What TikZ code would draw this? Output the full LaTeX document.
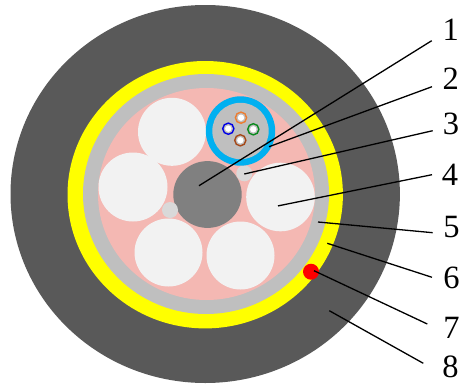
\documentclass[tikz,border=0pt]{standalone}
\usepackage{fontspec}
\setmainfont{Liberation Serif}
\definecolor{jacket}{HTML}{595959}
\definecolor{sheath}{RGB}{255,255,0}
\definecolor{tape}{HTML}{BFBFBF}
\definecolor{gel}{HTML}{F4B8B3}
\definecolor{filler}{HTML}{F2F2F2}
\definecolor{tube}{HTML}{00B0F0}
\definecolor{core}{HTML}{808080}
\definecolor{thread}{HTML}{D9D9D9}
\definecolor{fibO}{HTML}{ED7D31}
\definecolor{fibB}{HTML}{0000E6}
\definecolor{fibG}{HTML}{0A8A1E}
\definecolor{fibR}{HTML}{A5491A}
\tikzset{
  fillerdisc/.style={fill=filler},
  threaddisc/.style={fill=thread},
  leader/.style={draw=black,line width=1.3pt},
  numlabel/.style={font=\fontsize{32.5pt}{33pt}\selectfont,inner sep=0pt,text=black},
  fibrering/.style={fill=tape,line width=1.4pt},
}
\begin{document}
\begin{tikzpicture}[x=1pt,y=-1pt]
\useasboundingbox (0,0) rectangle (460,383);
% cable layers
\fill[jacket] (205.2,194) ellipse [x radius=194.7pt,y radius=189pt];
\fill[sheath] (205.2,194.7) ellipse [x radius=137.7pt,y radius=133.7pt];
\fill[tape] (206,194) ellipse [x radius=123pt,y radius=120pt];
\fill[gel] (206.5,194) ellipse [x radius=108.5pt,y radius=106pt];
% fillers
\fill[fillerdisc] (172,131.8) circle [radius=34pt];
\fill[fillerdisc] (133,187) circle [radius=34.5pt];
\fill[fillerdisc] (168.5,252.5) circle [radius=34pt];
\fill[fillerdisc] (240.5,255.5) circle [radius=34pt];
\fill[fillerdisc] (280.5,197) circle [radius=34.3pt];
% centre member and threads
\fill[core] (207.5,194.5) ellipse [x radius=34.2pt,y radius=33.4pt];
\fill[threaddisc] (170,210) circle [radius=8pt];
\fill[threaddisc] (244.3,173.3) circle [radius=8pt];
% loose tube
\fill[tube] (240.5,131) circle [radius=34.7pt];
\fill[tape] (240.5,131) circle [radius=28.2pt];
\foreach \px/\py/\col in {241/117.7/fibO,228.3/128.7/fibB,253.3/129.3/fibG,240.3/140.3/fibR}{
  \draw[fibrering,draw=\col] (\px,\py) circle [radius=5.6pt];
  \fill[white] (\px,\py) circle [radius=3.2pt];
}
% ripcord
\fill[red] (311,271.7) circle [radius=8pt];
% leader ends
\coordinate (s1) at (199,185.7);  \coordinate (e1) at (431.7,40.7);
\coordinate (s2) at (269,146.7);  \coordinate (e2) at (432,86.7);
\coordinate (s3) at (244.3,174);  \coordinate (e3) at (432.7,130.7);
\coordinate (s4) at (278,205.9);  \coordinate (e4) at (432,174.7);
\coordinate (s5) at (318,222);    \coordinate (e5) at (432.7,232.7);
\coordinate (s6) at (327.3,243.3);\coordinate (e6) at (432,277.3);
\coordinate (s7) at (314,270.7);  \coordinate (e7) at (427.3,324);
\coordinate (s8) at (329.3,310.7);\coordinate (e8) at (423.3,363.3);
\foreach \i in {1,...,8}{\draw[leader] (s\i) -- (e\i);}
% labels
\node[numlabel] (n1) at (450.7,30) {1};
\node[numlabel] (n2) at (450.7,79) {2};
\node[numlabel] (n3) at (451,124) {3};
\node[numlabel] (n4) at (450,175) {4};
\node[numlabel] (n5) at (451.5,227) {5};
\node[numlabel] (n6) at (451.5,278) {6};
\node[numlabel] (n7) at (451.5,328) {7};
\node[numlabel] (n8) at (450.5,366.5) {8};
\end{tikzpicture}
\end{document}
